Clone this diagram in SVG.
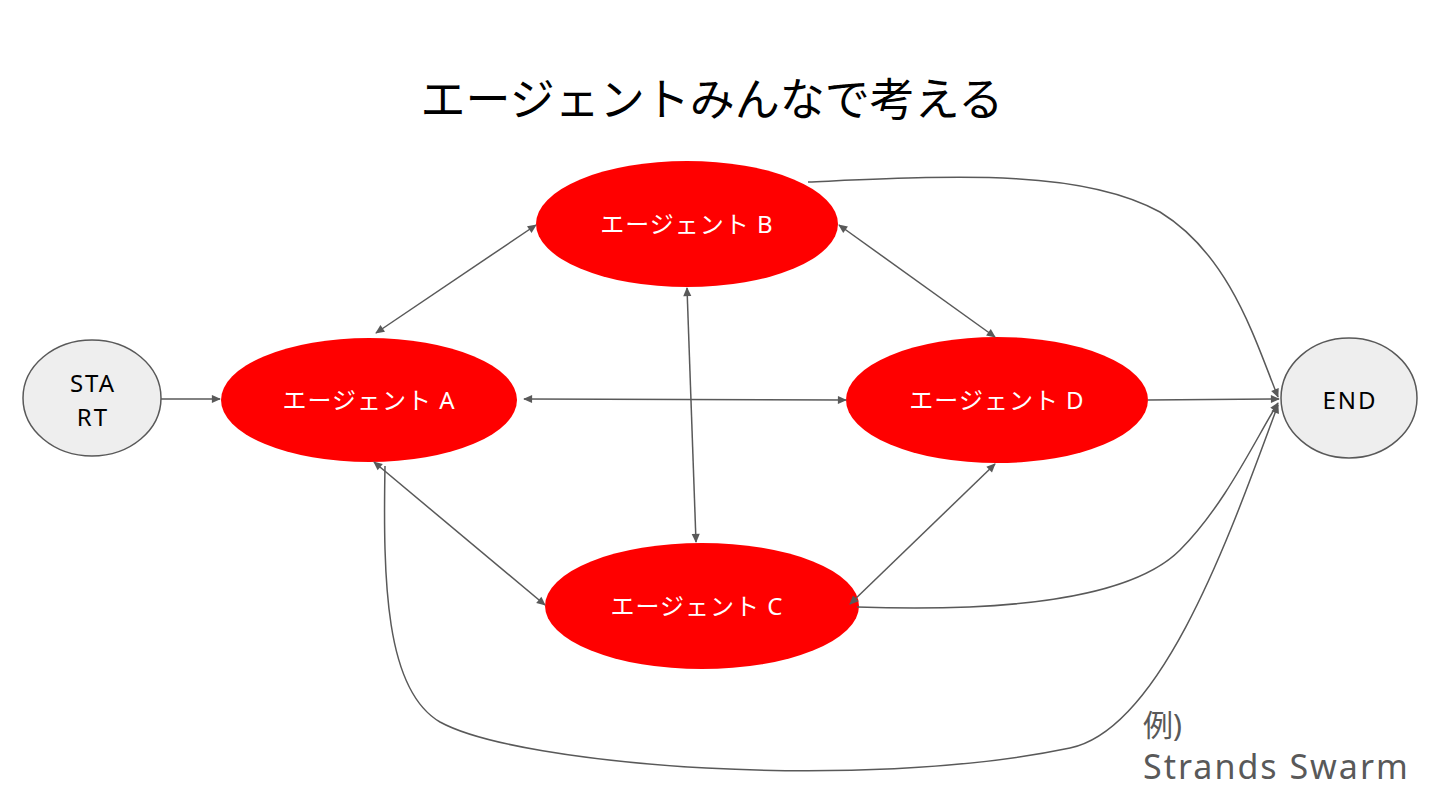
<svg xmlns="http://www.w3.org/2000/svg" width="1440" height="810" viewBox="0 0 1440 810">
<defs>
<marker id="ah" viewBox="0 0 10 10" refX="9" refY="5" markerWidth="10" markerHeight="9" markerUnits="userSpaceOnUse" orient="auto-start-reverse">
<path d="M0,0.5 L10,5 L0,9.5 Z" fill="#595959"/>
</marker>
</defs>
<style>
.agent{fill:#ff0000;stroke:none}
.term{fill:#eeeeee;stroke:#595959;stroke-width:1.5}
.al{font-family:"Noto Sans","Noto Sans CJK JP",sans-serif;font-size:24px;letter-spacing:1px;fill:#ffffff;text-anchor:middle}
.tl{font-family:"Noto Sans","Noto Sans CJK JP",sans-serif;font-size:24px;letter-spacing:2px;fill:#000000;text-anchor:middle}
.e{fill:none;stroke:#595959;stroke-width:1.5}
.one{marker-end:url(#ah)}
.two{marker-start:url(#ah);marker-end:url(#ah)}
</style>
<rect width="1440" height="810" fill="#ffffff"/>
<text x="712" y="116" font-family="'Noto Sans CJK JP',sans-serif" font-size="45" fill="#000000" text-anchor="middle">エージェントみんなで考える</text>
<g id="start"><ellipse class="term" cx="92" cy="398" rx="69" ry="58"/><text class="tl" x="93" y="392">STA</text><text class="tl" x="93" y="426">RT</text></g>
<g id="end"><ellipse class="term" cx="1349" cy="398" rx="68" ry="60"/><text class="tl" x="1350" y="409">END</text></g>
<g id="agentA"><ellipse class="agent" cx="369" cy="400" rx="148" ry="62"/><text class="al" x="369" y="409">エージェント  A</text></g>
<g id="agentB"><ellipse class="agent" cx="687" cy="224" rx="151" ry="63"/><text class="al" x="687" y="233">エージェント  B</text></g>
<g id="agentC"><ellipse class="agent" cx="702" cy="606" rx="157" ry="63"/><text class="al" x="697" y="615">エージェント  C</text></g>
<g id="agentD"><ellipse class="agent" cx="997" cy="400" rx="151" ry="63"/><text class="al" x="997" y="409">エージェント  D</text></g>
<g id="connectors">
<path class="e one" d="M161,399 L220,399"/>
<path class="e two" d="M376,333 L536,225"/>
<path class="e two" d="M839,225 L995,337"/>
<path class="e two" d="M524,399 L846,400"/>
<path class="e two" d="M687,288 L696,542"/>
<path class="e two" d="M374,462 L545,605"/>
<path class="e two" d="M850,604 L995,464"/>
<path class="e one" d="M808,182 C950,176 1080,168 1160,212 C1230,255 1255,340 1278,397"/>
<path class="e one" d="M1148,400 L1279,399"/>
<path class="e one" d="M857,607 C1000,612 1130,600 1180,550 C1225,505 1255,440 1278,403"/>
<path class="e one" d="M385,466 C383,580 385,690 440,722 C520,766 860,792 1070,748 C1165,728 1235,520 1278,405"/>
</g>
<g id="note" font-family="'Noto Sans','Noto Sans CJK JP',sans-serif" fill="#595959">
<text x="1143" y="736" font-size="30">例)</text>
<text x="1143" y="779" font-size="34" letter-spacing="2">Strands Swarm</text>
</g>
</svg>
